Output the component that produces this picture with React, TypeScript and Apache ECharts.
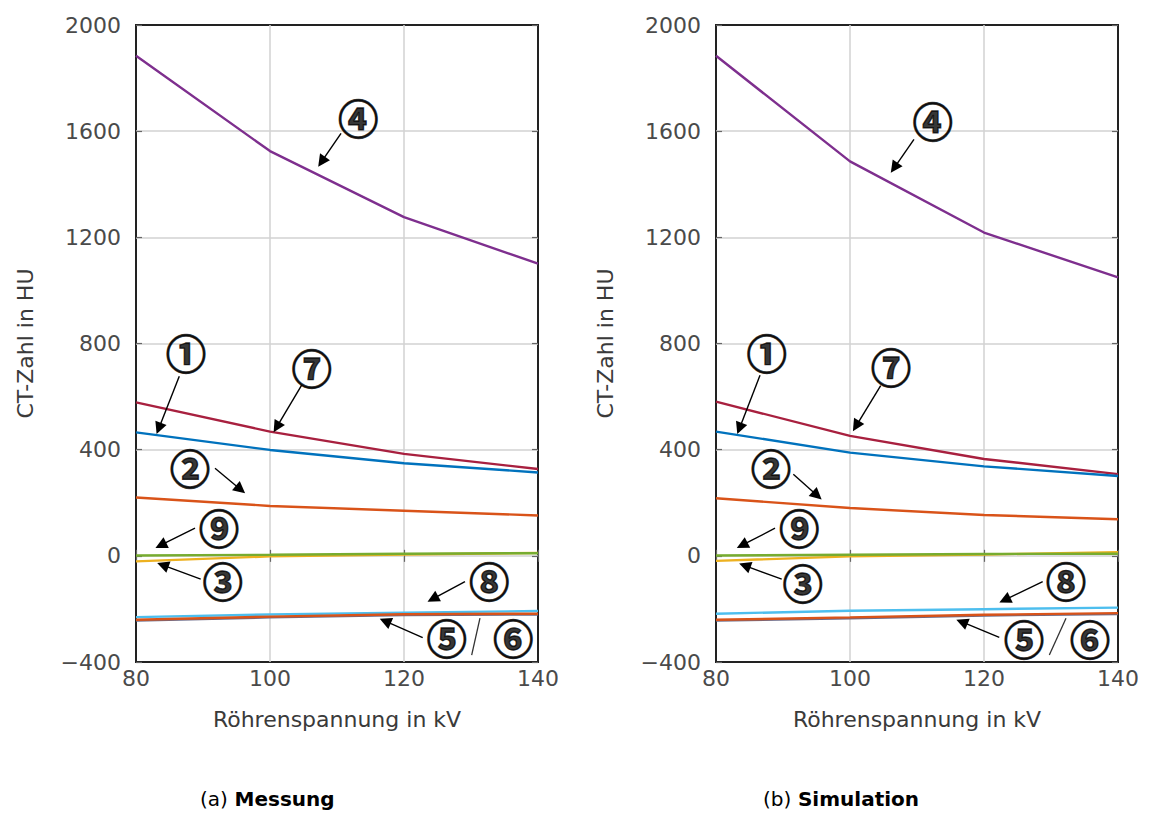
import React, { useEffect, useRef } from "react";
import * as echarts from "echarts";

// Tube voltage categories (kV)
const KV = [80, 100, 120, 140];

// (a) Messung – CT numbers in HU
const M1 = [465, 399, 349, 314];
const M2 = [220, 188, 170, 152];
const M3 = [-21, -2, 5, 11];
const M4 = [1884, 1525, 1276, 1101];
const M5 = [-244, -232, -223, -221];
const M6 = [-241, -229, -220, -218];
const M7 = [578, 468, 384, 327];
const M8 = [-231, -221, -214, -208];
const M9 = [1, 4, 8, 10];

// (b) Simulation – CT numbers in HU
const S1 = [468, 389, 337, 301];
const S2 = [217, 180, 154, 138];
const S3 = [-19, -2, 5, 14];
const S4 = [1884, 1486, 1218, 1049];
const S5 = [-244, -235, -225, -219];
const S6 = [-241, -232, -222, -216];
const S7 = [581, 452, 365, 308];
const S8 = [-218, -207, -201, -195];
const S9 = [1, 4, 7, 8];

const X_TICKS = [80, 100, 120, 140];
const Y_TICKS = [-400, 0, 400, 800, 1200, 1600, 2000];

const X_TITLE = "Röhrenspannung in kV";
const Y_TITLE = "CT-Zahl in HU";

const SERIES_NAMES = ["1", "2", "3", "4", "5", "6", "7", "8", "9"];
const COLORS = ["#0072bd", "#d95319", "#edb120", "#7e2f8e", "#6a6a88", "#d95319", "#a8203f", "#4dbeee", "#77ac30"];
// drawing order (index into series list)
const DRAW_ORDER = [3, 6, 0, 1, 2, 8, 7, 4, 5];

// Annotations (label positions in data coordinates: kV, HU)
const LABELS_A = [
  { name: "①", kv: 87.46, hu: 769 },
  { name: "⑦", kv: 106.22, hu: 712 },
  { name: "④", kv: 113.18, hu: 1654 },
  { name: "②", kv: 88.06, hu: 333 },
  { name: "⑨", kv: 92.39, hu: 110 },
  { name: "③", kv: 92.94, hu: -91 },
  { name: "⑧", kv: 132.73, hu: -91 },
  { name: "⑤", kv: 126.37, hu: -305 },
  { name: "⑥", kv: 136.31, hu: -305 },
];
const ARROWS_A = [
  [86.46, 677, 83.4, 480],
  [104.73, 643, 101.0, 485],
  [110.6, 1592, 107.7, 1485],
  [91.79, 330, 95.6, 250],
  [88.81, 104, 83.7, 40],
  [89.66, -88, 84.0, -35],
  [129.1, -97, 124.3, -162],
  [122.79, -308, 117.2, -246],
];
const SLASH_A = [131.34, -235, 130.1, -374];

const LABELS_B = [
  { name: "①", kv: 87.57, hu: 769 },
  { name: "⑦", kv: 106.12, hu: 715 },
  { name: "④", kv: 112.34, hu: 1642 },
  { name: "②", kv: 88.21, hu: 333 },
  { name: "⑨", kv: 92.43, hu: 110 },
  { name: "③", kv: 92.94, hu: -97 },
  { name: "⑧", kv: 132.24, hu: -91 },
  { name: "⑤", kv: 125.97, hu: -311 },
  { name: "⑥", kv: 135.82, hu: -311 },
];
const ARROWS_B = [
  [86.57, 680, 83.5, 480],
  [104.58, 641, 100.9, 489],
  [109.55, 1569, 106.6, 1462],
  [91.54, 307, 95.1, 227],
  [88.81, 104, 83.9, 40],
  [89.81, -88, 84.3, -37],
  [128.76, -97, 123.1, -166],
  [122.28, -307, 116.7, -249],
];
const SLASH_B = [132.24, -235, 129.75, -374];

const CAPTION_A = ["(a)", "Messung"];
const CAPTION_B = ["(b)", "Simulation"];

const FONT = '"DejaVu Sans", sans-serif';

function fmtY(v: number) {
  return v < 0 ? "\u2212" + String(-v) : String(v);
}

function makeX(gridIndex: number, main: boolean) {
  return {
    type: "value",
    gridIndex,
    position: main ? "bottom" : "top",
    min: X_TICKS[0],
    max: X_TICKS[X_TICKS.length - 1],
    interval: X_TICKS[1] - X_TICKS[0],
    axisLine: { show: false },
    axisTick: { show: true, inside: true, length: 6, lineStyle: { color: "#666", width: 1.2 } },
    axisLabel: main
      ? { show: true, margin: 5, fontSize: 22, color: "#4a4a4a", fontFamily: FONT }
      : { show: false },
    splitLine: main
      ? { show: true, showMinLine: false, showMaxLine: false, lineStyle: { color: "#d2d2d2", width: 1.5 } }
      : { show: false },
    name: main ? X_TITLE : "",
    nameLocation: "middle",
    nameGap: 46,
    nameTextStyle: { fontSize: 22, color: "#3a3a3a", fontFamily: FONT },
  };
}

function makeY(gridIndex: number, main: boolean) {
  return {
    type: "value",
    gridIndex,
    position: main ? "left" : "right",
    min: Y_TICKS[0],
    max: Y_TICKS[Y_TICKS.length - 1],
    interval: Y_TICKS[1] - Y_TICKS[0],
    axisLine: { show: false },
    axisTick: { show: true, inside: true, length: 6, lineStyle: { color: "#666", width: 1.2 } },
    axisLabel: main
      ? { show: true, margin: 15, fontSize: 22, color: "#4a4a4a", fontFamily: FONT, formatter: fmtY }
      : { show: false },
    splitLine: main
      ? { show: true, showMinLine: false, showMaxLine: false, lineStyle: { color: "#d2d2d2", width: 1.5 } }
      : { show: false },
    name: main ? Y_TITLE : "",
    nameLocation: "middle",
    nameGap: 100,
    nameTextStyle: { fontSize: 22, color: "#3a3a3a", fontFamily: FONT },
  };
}

function lineSeries(sets: number[][], axisIdx: number) {
  return DRAW_ORDER.map((i) => ({
    name: SERIES_NAMES[i],
    type: "line",
    xAxisIndex: axisIdx,
    yAxisIndex: axisIdx,
    data: KV.map((k, j) => [k, sets[i][j]]),
    showSymbol: false,
    symbol: "none",
    lineStyle: { color: COLORS[i], width: 2.4 },
    itemStyle: { color: COLORS[i] },
    silent: true,
    z: 3,
  }));
}

function annotationSeries(labels: any[], arrows: number[][], slash: number[], axisIdx: number) {
  const lineData: any[] = arrows.map((a) => [
    { coord: [a[0], a[1]], symbol: "none" },
    { coord: [a[2], a[3]], symbol: "triangle" },
  ]);
  lineData.push([
    { coord: [slash[0], slash[1]], symbol: "none", lineStyle: { color: "#333", width: 1.3 } },
    { coord: [slash[2], slash[3]], symbol: "none" },
  ]);
  return {
    type: "scatter",
    xAxisIndex: axisIdx,
    yAxisIndex: axisIdx,
    symbolSize: 1,
    itemStyle: { color: "rgba(0,0,0,0)" },
    silent: true,
    z: 5,
    data: labels.map((l) => ({ name: l.name, value: [l.kv, l.hu] })),
    label: {
      show: true,
      position: "inside",
      formatter: "{b}",
      fontSize: 40,
      lineHeight: 40,
      fontWeight: "bold",
      color: "#000",
      textBorderColor: "#000",
      textBorderWidth: 1.4,
      fontFamily: '"Noto Sans CJK JP", "DejaVu Sans", sans-serif',
    },
    markLine: {
      silent: true,
      animation: false,
      symbol: ["none", "triangle"],
      symbolSize: 12,
      label: { show: false },
      emphasis: { disabled: true },
      lineStyle: { color: "#000", width: 1.4, type: "solid" },
      data: lineData,
    },
  };
}

export default function App() {
  const ref = useRef<HTMLDivElement>(null);
  useEffect(() => {
    if (!ref.current) return;
    const chart = echarts.init(ref.current, null, { renderer: "svg" });
    const M = [M1, M2, M3, M4, M5, M6, M7, M8, M9];
    const S = [S1, S2, S3, S4, S5, S6, S7, S8, S9];
    const capRich = {
      r: { fontSize: 20, fontFamily: FONT, fill: "#000" },
      b: { fontSize: 20, fontFamily: FONT, fontWeight: "bold", fill: "#000" },
    };
    const option: any = {
      animation: false,
      backgroundColor: "#fff",
      grid: [
        { left: 136, top: 25, width: 402, height: 637, show: true, borderColor: "#222", borderWidth: 2, backgroundColor: "#fff" },
        { left: 716, top: 25, width: 402, height: 637, show: true, borderColor: "#222", borderWidth: 2, backgroundColor: "#fff" },
      ],
      xAxis: [makeX(0, true), makeX(0, false), makeX(1, true), makeX(1, false)],
      yAxis: [makeY(0, true), makeY(0, false), makeY(1, true), makeY(1, false)],
      series: [
        ...lineSeries(M, 0),
        ...lineSeries(S, 2),
        annotationSeries(LABELS_A, ARROWS_A, SLASH_A, 0),
        annotationSeries(LABELS_B, ARROWS_B, SLASH_B, 2),
      ],
      graphic: [
        {
          type: "text",
          left: 200,
          top: 789,
          style: { text: `{r|${CAPTION_A[0]}}  {b|${CAPTION_A[1]}}`, rich: capRich },
        },
        {
          type: "text",
          left: 763,
          top: 789,
          style: { text: `{r|${CAPTION_B[0]}}  {b|${CAPTION_B[1]}}`, rich: capRich },
        },
      ],
    };
    chart.setOption(option);
    return () => chart.dispose();
  }, []);
  return (
    <div
      ref={ref}
      style={{ position: "absolute", left: 0, top: 0, width: 1150, height: 816 }}
    />
  );
}
